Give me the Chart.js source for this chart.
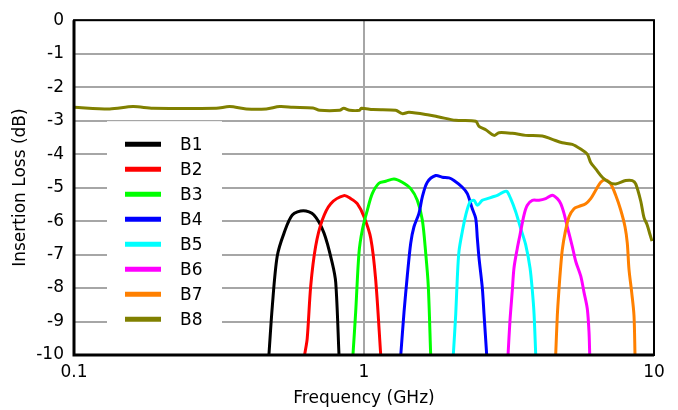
<!DOCTYPE html>
<html>
<head>
<meta charset="utf-8">
<script src="https://cdn.jsdelivr.net/npm/chart.js@4/dist/chart.umd.min.js"></script>
<style>
  html, body { margin: 0; padding: 0; background: #fff; }
  #wrap { width: 678px; height: 410px; }
</style>
</head>
<body>
<div id="wrap"><canvas id="c" width="678" height="410"></canvas></div>
<script>
// Band names and colours
const bandNames = ['B1', 'B2', 'B3', 'B4', 'B5', 'B6', 'B7', 'B8'];
const bandColors = ['#000000', '#ff0000', '#00ff00', '#0000ff', '#00ffff', '#ff00ff', '#ff8000', '#808000'];

// Axis ticks
const freqTicks = [0.1, 1, 10];
const lossTicks = [0, -1, -2, -3, -4, -5, -6, -7, -8, -9, -10];

// Frequency (GHz) and insertion loss (dB) per band
const b1Freq = [0.470, 0.483, 0.502, 0.530, 0.566, 0.618, 0.672, 0.728, 0.777, 0.799, 0.820];
const b1Loss = [-10, -8.53, -7.05, -6.36, -5.82, -5.69, -5.82, -6.36, -7.25, -7.84, -10];

const b2Freq = [0.624, 0.637, 0.655, 0.681, 0.718, 0.768, 0.853, 0.900, 0.948, 1.0, 1.055, 1.097, 1.142];
const b2Loss = [-10, -9.51, -7.94, -6.76, -5.97, -5.48, -5.24, -5.33, -5.48, -5.87, -6.51, -7.74, -10];

const b3Freq = [0.916, 0.936, 0.961, 0.987, 1.027, 1.068, 1.126, 1.188, 1.269, 1.355, 1.449, 1.527, 1.589, 1.632, 1.666, 1.698];
const b3Loss = [-10, -8.72, -6.95, -6.26, -5.67, -5.18, -4.87, -4.81, -4.74, -4.84, -5.03, -5.38, -5.97, -6.95, -7.94, -10];

const b4Freq = [1.339, 1.374, 1.410, 1.449, 1.487, 1.547, 1.589, 1.653, 1.767, 1.862, 1.964, 2.043, 2.183, 2.271, 2.363, 2.428, 2.459, 2.492, 2.558, 2.593, 2.649];
const b4Loss = [-10, -8.72, -7.64, -6.66, -6.17, -5.77, -5.28, -4.84, -4.64, -4.69, -4.71, -4.79, -4.99, -5.18, -5.63, -5.92, -6.51, -7.1, -7.99, -8.77, -10];

const b5Freq = [2.032, 2.072, 2.098, 2.126, 2.183, 2.243, 2.320, 2.395, 2.459, 2.558, 2.662, 2.770, 2.883, 2.999, 3.105, 3.205, 3.335, 3.470, 3.611, 3.737, 3.806, 3.858, 3.910];
const b5Loss = [-10, -8.77, -7.69, -6.9, -6.31, -5.82, -5.43, -5.38, -5.53, -5.38, -5.33, -5.28, -5.23, -5.15, -5.11, -5.33, -5.72, -6.22, -6.71, -7.4, -8.08, -8.77, -10];

const b6Freq = [3.138, 3.187, 3.246, 3.290, 3.378, 3.451, 3.562, 3.657, 3.806, 4.012, 4.232, 4.460, 4.641, 4.768, 4.894, 5.024, 5.228, 5.370, 5.588, 5.737, 5.888, 5.969, 6.003];
const b6Loss = [-10, -8.97, -8.08, -7.4, -6.81, -6.41, -5.82, -5.53, -5.38, -5.38, -5.33, -5.23, -5.33, -5.48, -5.77, -6.17, -6.76, -7.2, -7.64, -8.13, -8.62, -9.31, -10];

const b7Freq = [4.581, 4.641, 4.703, 4.768, 4.829, 4.934, 5.093, 5.298, 5.514, 5.814, 6.050, 6.295, 6.550, 6.816, 7.090, 7.379, 7.678, 7.943, 8.089, 8.199, 8.377, 8.531, 8.600];
const b7Loss = [-10, -8.82, -8.03, -7.35, -6.85, -6.36, -5.87, -5.63, -5.56, -5.48, -5.33, -5.08, -4.84, -4.77, -4.89, -5.23, -5.67, -6.17, -6.66, -7.44, -8.13, -8.82, -10];

const b8Freq = [0.1, 0.1328, 0.1598, 0.1873, 0.3095, 0.3442, 0.3927, 0.4603, 0.5121, 0.569, 0.667, 0.7035, 0.8245, 0.8511, 0.8927, 0.9665, 0.9788, 1.074, 1.286, 1.355, 1.429, 1.675, 1.814, 2.072, 2.428, 2.492, 2.629, 2.808, 2.921, 3.246, 3.611, 4.119, 4.46, 4.829, 5.228, 5.588, 5.888, 6.05, 6.295, 6.632, 6.995, 7.379, 7.989, 8.418, 8.648, 8.999, 9.237, 9.461, 9.687, 9.842];
const b8Loss = [-2.6, -2.65, -2.58, -2.63, -2.63, -2.58, -2.65, -2.65, -2.58, -2.6, -2.62, -2.69, -2.69, -2.63, -2.69, -2.69, -2.63, -2.67, -2.69, -2.79, -2.75, -2.83, -2.89, -2.99, -3.02, -3.17, -3.27, -3.44, -3.36, -3.38, -3.44, -3.46, -3.56, -3.66, -3.71, -3.85, -4.0, -4.25, -4.44, -4.69, -4.84, -4.89, -4.79, -4.79, -4.89, -5.4, -5.9, -6.1, -6.4, -6.6];

const bandFreqs = [b1Freq, b2Freq, b3Freq, b4Freq, b5Freq, b6Freq, b7Freq, b8Freq];
const bandLosses = [b1Loss, b2Loss, b3Loss, b4Loss, b5Loss, b6Loss, b7Loss, b8Loss];

const FONT = '"DejaVu Sans", Verdana, sans-serif';
const FONT_SIZE = 17;

const datasets = bandNames.map((name, i) => ({
  label: name,
  data: bandFreqs[i].map((f, k) => ({ x: f, y: bandLosses[i][k] })),
  borderColor: bandColors[i],
  backgroundColor: bandColors[i],
  borderWidth: 3,
  pointRadius: 0,
  tension: 0.3,
  fill: false,
  order: bandNames.length - i
}));

// Legend in a white box inside the plot, drawn above the grid
const insideLegend = {
  id: 'insideLegend',
  beforeDatasetsDraw(chart) {
    const { ctx, chartArea } = chart;
    const x0 = chartArea.left + 33, y0 = chartArea.top + 101;
    ctx.save();
    ctx.fillStyle = '#ffffff';
    ctx.fillRect(x0, y0, 115, 222);
    ctx.font = FONT_SIZE + 'px ' + FONT;
    ctx.textBaseline = 'middle';
    ctx.textAlign = 'left';
    chart.data.datasets.forEach((ds, i) => {
      const y = y0 + 23 + i * 25;
      ctx.strokeStyle = ds.borderColor;
      ctx.lineWidth = 5;
      ctx.beginPath();
      ctx.moveTo(x0 + 18, y);
      ctx.lineTo(x0 + 54, y);
      ctx.stroke();
      ctx.fillStyle = '#000';
      ctx.fillText(ds.label, x0 + 73, y + 1);
    });
    ctx.restore();
  },
  afterDatasetsDraw(chart) {
    const { ctx, chartArea } = chart;
    ctx.save();
    ctx.strokeStyle = '#000';
    ctx.lineWidth = 2;
    ctx.strokeRect(chartArea.left, chartArea.top, chartArea.right - chartArea.left, chartArea.bottom - chartArea.top);
    ctx.lineWidth = 3;
    ctx.beginPath();
    ctx.moveTo(chartArea.left, chartArea.top);
    ctx.lineTo(chartArea.left, chartArea.bottom);
    ctx.lineTo(chartArea.right, chartArea.bottom);
    ctx.stroke();
    ctx.restore();
  }
};

new Chart(document.getElementById('c'), {
  type: 'line',
  data: { datasets },
  plugins: [insideLegend],
  options: {
    responsive: false,
    animation: false,
    layout: { padding: { left: 0, right: 24, top: 16, bottom: 0 } },
    plugins: { legend: { display: false }, tooltip: { enabled: false } },
    scales: {
      x: {
        type: 'logarithmic',
        min: 0.1,
        max: 10,
        afterBuildTicks(scale) { scale.ticks = freqTicks.map(v => ({ value: v })); },
        afterFit(scale) { scale.height = 55; },
        grid: { color: '#a6a6a6', lineWidth: 2, drawTicks: false },
        border: { display: false },
        ticks: {
          color: '#000',
          font: { family: FONT, size: FONT_SIZE },
          padding: 7,
          maxRotation: 0,
          callback: v => String(v)
        },
        title: {
          display: true,
          text: 'Frequency (GHz)',
          color: '#000',
          font: { family: FONT, size: FONT_SIZE },
          padding: { top: 0, bottom: 1 }
        }
      },
      y: {
        type: 'linear',
        min: -10,
        max: 0,
        afterBuildTicks(scale) { scale.ticks = lossTicks.map(v => ({ value: v })); },
        afterFit(scale) { scale.width = 74; },
        grid: { color: '#a6a6a6', lineWidth: 2, drawTicks: false },
        border: { display: false },
        ticks: {
          color: '#000',
          font: { family: FONT, size: FONT_SIZE },
          padding: 10
        },
        title: {
          display: true,
          text: 'Insertion Loss (dB)',
          color: '#000',
          font: { family: FONT, size: FONT_SIZE },
          padding: { top: 10, bottom: 0 }
        }
      }
    }
  }
});
</script>
</body>
</html>
